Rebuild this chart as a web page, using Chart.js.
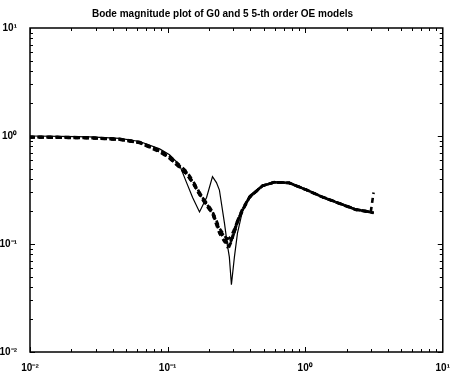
<!DOCTYPE html>
<html>
<head>
<meta charset="utf-8">
<script src="https://cdn.jsdelivr.net/npm/chart.js@4/dist/chart.umd.min.js"></script>
<style>
  html, body { margin: 0; padding: 0; background: #fff; }
  #wrap { width: 452px; height: 375px; position: relative; }
</style>
</head>
<body>
<div id="wrap"><canvas id="bode"></canvas></div>
<script>
// frequency grid (rad/s) and magnitudes
const freqs = [0.01, 0.0165, 0.0272, 0.0449, 0.0627, 0.0875, 0.1033, 0.122, 0.1374, 0.152,
  0.1706, 0.192, 0.212, 0.2265, 0.238, 0.259, 0.272, 0.281, 0.291, 0.306,
  0.322, 0.349, 0.393, 0.488, 0.596, 0.765, 1.016, 1.327, 1.763, 2.343, 3.0, 3.1416];

const g0 = [1.0, 0.99, 0.98, 0.95, 0.89, 0.76, 0.67, 0.54, 0.37, 0.27,
  0.198, 0.27, 0.42, 0.37, 0.316, 0.156, 0.098, 0.076, 0.042, 0.076,
  0.126, 0.198, 0.28, 0.35, 0.375, 0.37, 0.32, 0.275, 0.24, 0.21, 0.197, 0.194];

const model1 = [0.98, 0.975, 0.965, 0.935, 0.875, 0.73, 0.64, 0.53, 0.46, 0.38,
  0.30, 0.24, 0.20, 0.16, 0.135, 0.11, 0.097, 0.095, 0.105, 0.13,
  0.16, 0.205, 0.27, 0.345, 0.373, 0.368, 0.318, 0.273, 0.238, 0.208, 0.197, 0.195];
const model2 = [0.97, 0.965, 0.955, 0.925, 0.86, 0.71, 0.62, 0.51, 0.44, 0.37,
  0.285, 0.225, 0.19, 0.15, 0.125, 0.105, 0.094, 0.098, 0.11, 0.135,
  0.165, 0.21, 0.272, 0.346, 0.374, 0.369, 0.319, 0.274, 0.239, 0.209, 0.198, 0.196];
const model3 = [0.975, 0.97, 0.96, 0.93, 0.87, 0.72, 0.63, 0.52, 0.45, 0.375,
  0.29, 0.23, 0.195, 0.16, 0.135, 0.118, 0.112, 0.113, 0.12, 0.138,
  0.165, 0.205, 0.27, 0.344, 0.372, 0.367, 0.317, 0.272, 0.237, 0.207, 0.196, 0.194];
const model4 = [0.985, 0.98, 0.97, 0.94, 0.88, 0.74, 0.65, 0.54, 0.47, 0.39,
  0.30, 0.235, 0.20, 0.165, 0.14, 0.12, 0.108, 0.104, 0.11, 0.128,
  0.158, 0.2, 0.268, 0.345, 0.373, 0.368, 0.318, 0.273, 0.238, 0.208, 0.197, 0.195];
const model5 = [0.97, 0.965, 0.955, 0.925, 0.865, 0.72, 0.625, 0.515, 0.445, 0.37,
  0.29, 0.23, 0.19, 0.155, 0.13, 0.112, 0.102, 0.1, 0.108, 0.13,
  0.16, 0.205, 0.27, 0.345, 0.373, 0.368, 0.318, 0.273, 0.238, 0.208, 0.2, 0.30];

const decades = [0.01, 0.1, 1, 10];
const decadeLabels = ['10\u207B\u00B2', '10\u207B\u00B9', '10\u2070', '10\u00B9'];

const pts = arr => arr.map((v, i) => ({ x: freqs[i], y: v }));

const models = [model1, model2, model3, model4, model5];
const datasets = models.map((m, i) => ({
  label: 'model ' + (i + 1),
  data: pts(m),
  borderColor: '#000',
  borderWidth: 2.6,
  borderDash: [5, 4],
  borderDashOffset: (i % 2) * 1.5,
  pointRadius: 0,
  tension: 0
}));
datasets.push({
  label: 'G0',
  data: pts(g0),
  borderColor: '#000',
  borderWidth: 1.2,
  pointRadius: 0,
  tension: 0
});

const tickFont = { family: 'Liberation Sans', size: 10, weight: 'bold' };

// MATLAB style box with inward ticks
const boxTicks = {
  id: 'boxTicks',
  afterDraw(chart) {
    const { ctx, chartArea: a, scales } = chart;
    ctx.save();
    ctx.strokeStyle = '#000';
    ctx.lineWidth = 1;
    ctx.beginPath();
    for (let k = -2; k < 1; k++) {
      for (let m = 1; m <= 9; m++) {
        const v = m * Math.pow(10, k);
        const len = m === 1 ? 5 : 3;
        const px = Math.round(scales.x.getPixelForValue(v)) + 0.5;
        ctx.moveTo(px, a.bottom); ctx.lineTo(px, a.bottom - len);
        ctx.moveTo(px, a.top); ctx.lineTo(px, a.top + len);
        const py = Math.round(scales.y.getPixelForValue(v)) + 0.5;
        ctx.moveTo(a.left, py); ctx.lineTo(a.left + len, py);
        ctx.moveTo(a.right, py); ctx.lineTo(a.right - len, py);
      }
    }
    ctx.stroke();
    ctx.lineWidth = 1.5;
    ctx.strokeRect(a.left, a.top, a.right - a.left, a.bottom - a.top);
    ctx.restore();
  }
};

new Chart(document.getElementById('bode'), {
  type: 'line',
  data: { datasets },
  options: {
    responsive: true,
    maintainAspectRatio: false,
    animation: false,
    layout: { padding: { left: 0, right: 7, top: 0, bottom: 0 } },
    plugins: {
      legend: { display: false },
      tooltip: { enabled: false },
      title: {
        display: true,
        text: 'Bode magnitude plot of G0 and 5 5-th order OE models',
        color: '#000',
        font: { family: 'Liberation Sans', size: 10, weight: 'bold' },
        padding: { top: 8, bottom: 8 }
      }
    },
    scales: {
      x: {
        type: 'logarithmic',
        min: 0.01,
        max: 10,
        grid: { display: false },
        border: { display: false },
        afterBuildTicks: s => { s.ticks = decades.map(v => ({ value: v })); },
        afterFit: s => { s.height = 23; },
        ticks: {
          color: '#000',
          font: tickFont,
          padding: 2,
          maxRotation: 0,
          autoSkip: false,
          callback: v => decadeLabels[decades.indexOf(v)] || ''
        }
      },
      y: {
        type: 'logarithmic',
        min: 0.01,
        max: 10,
        grid: { display: false },
        border: { display: false },
        afterBuildTicks: s => { s.ticks = decades.map(v => ({ value: v })); },
        afterFit: s => { s.width = 30; },
        ticks: {
          color: '#000',
          font: tickFont,
          padding: 5,
          autoSkip: false,
          callback: v => decadeLabels[decades.indexOf(v)] || ''
        }
      }
    }
  },
  plugins: [boxTicks]
});
</script>
</body>
</html>
